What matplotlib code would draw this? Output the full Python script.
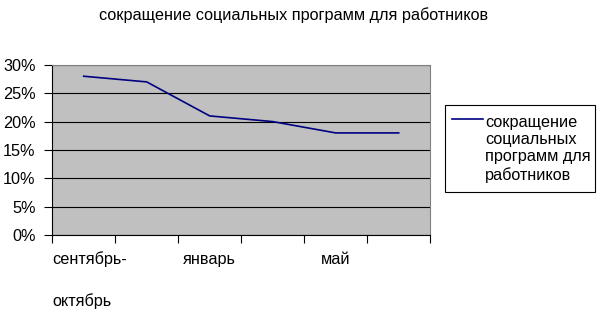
import matplotlib
matplotlib.use("Agg")
import matplotlib.pyplot as plt
import matplotlib.transforms as mtransforms
from matplotlib.ticker import PercentFormatter, FixedLocator
from matplotlib.patches import Rectangle
from matplotlib.lines import Line2D

plt.rcParams['font.family'] = ['Liberation Sans', 'DejaVu Sans']

# data
categories = ["сентябрь-\nоктябрь", "", "январь", "", "май", ""]
values = [28, 27, 21, 20, 18, 18]
series_name = "сокращение\nсоциальных\nпрограмм для\nработников"
title = "сокращение социальных программ для работников"
yticks = [0, 5, 10, 15, 20, 25, 30]

FS = 11.7
LINE_COLOR = '#000080'

fig = plt.figure(figsize=(6, 3.15), dpi=100)
ax = fig.add_axes([0.087, 0.254, 0.63, 0.54])
ax.set_facecolor('#c0c0c0')

x = list(range(len(values)))
ax.plot(x, values, color=LINE_COLOR, lw=1.2)

ax.set_xlim(-0.5, len(values) - 0.5)
ax.set_ylim(0, 30)
ax.set_yticks(yticks)
ax.yaxis.set_major_formatter(PercentFormatter(decimals=0))
ax.yaxis.grid(True, color='black', lw=0.8)
ax.set_axisbelow(True)

# category labels in the middle, tick marks between categories
ax.set_xticks(x)
ax.set_xticklabels(categories, linespacing=3.0, multialignment='left')
ax.xaxis.set_minor_locator(FixedLocator([i - 0.5 for i in range(len(values) + 1)]))
ax.tick_params(axis='x', which='major', length=0, pad=12, labelsize=FS)
ax.tick_params(axis='x', which='minor', length=6, width=0.8, color='black')
ax.tick_params(axis='y', length=6, width=0.8, pad=6, labelsize=FS)

# the wrapped first label sits a bit to the right in the original
first = ax.get_xticklabels()[0]
first.set_transform(first.get_transform() +
                    mtransforms.ScaledTranslation(6 / 100, 0, fig.dpi_scale_trans))

for side in ['top', 'right']:
    ax.spines[side].set_color('#808080')
for side in ['left', 'bottom']:
    ax.spines[side].set_color('black')
for s in ax.spines.values():
    s.set_linewidth(0.8)

fig.text(0.49, 0.952, title, ha='center', va='center', fontsize=FS)

# legend drawn like the Excel one: line next to the first text line
fig.add_artist(Rectangle((0.742, 0.390), 0.25, 0.277, transform=fig.transFigure,
                         facecolor='white', edgecolor='black', lw=0.8))
fig.add_artist(Line2D([0.753, 0.805], [0.622, 0.622], transform=fig.transFigure,
                      color=LINE_COLOR, lw=1.2))
fig.text(0.809, 0.528, series_name, ha='left', va='center', fontsize=FS,
         linespacing=1.2)

fig.savefig('out.png', dpi=100)
